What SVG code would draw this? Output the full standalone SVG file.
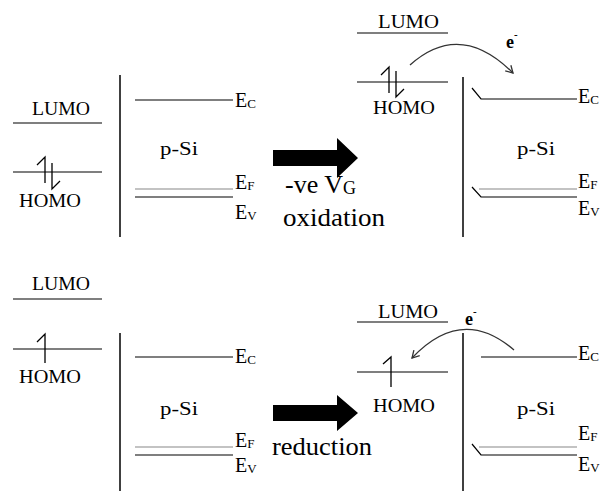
<svg xmlns="http://www.w3.org/2000/svg" width="602" height="491" viewBox="0 0 602 491">
<style>
.bg{fill:#fff}
.ln{stroke:#000;stroke-width:1.2;fill:none}
.vl{stroke:#000;stroke-width:1.5;fill:none}
.gl{stroke:#888;stroke-width:1.2;fill:none}
.el{stroke:#000;stroke-width:1.3;fill:none}
text{font-family:'Liberation Serif','DejaVu Serif',serif;fill:#000}
.mo{font-size:19px}
.e{font-size:20px}
.sub{font-size:13px}
.big{font-size:26px}
.eb{font-size:18px;font-weight:bold}
.cv{stroke:#333;stroke-width:1.3;fill:none;marker-end:url(#ah)}
</style>
<defs>
<marker id="ah" markerWidth="10" markerHeight="10" refX="8" refY="5" orient="auto" markerUnits="userSpaceOnUse">
<path d="M1,1 L8,5 L1,9" stroke="#333" stroke-width="1.3" fill="none"/>
</marker>
</defs>
<rect class="bg" x="0" y="0" width="602" height="491"/>

<g id="tl-molecule">
<text class="mo" x="32" y="115" textLength="58" lengthAdjust="spacingAndGlyphs">LUMO</text>
<line class="ln" x1="13" y1="123" x2="102" y2="123"/>
<line class="ln" x1="13" y1="172" x2="102" y2="172"/>
<path class="el" d="M37,165 L45,157 L45,183"/>
<path class="el" d="M52,163 L52,189 L60,181"/>
<text class="mo" x="19" y="207" textLength="62" lengthAdjust="spacingAndGlyphs">HOMO</text>
</g>

<g id="tl-silicon">
<line class="vl" x1="120" y1="75" x2="120" y2="237"/>
<line class="ln" x1="135" y1="100" x2="233" y2="100"/>
<line class="gl" x1="135" y1="189" x2="233" y2="189"/>
<line class="ln" x1="135" y1="197" x2="233" y2="197"/>
<text class="mo" x="160" y="155" textLength="38" lengthAdjust="spacingAndGlyphs">p-Si</text>
<text class="e" x="235" y="107">E<tspan class="sub" dy="1">C</tspan></text>
<text class="e" x="235" y="189">E<tspan class="sub" dy="1">F</tspan></text>
<text class="e" x="235" y="219">E<tspan class="sub" dy="1">V</tspan></text>
</g>

<g id="tr-molecule">
<text class="mo" x="378" y="28" textLength="61" lengthAdjust="spacingAndGlyphs">LUMO</text>
<line class="ln" x1="357" y1="33" x2="448" y2="33"/>
<line class="ln" x1="357" y1="82" x2="448" y2="82"/>
<path class="el" d="M381,75 L389,67 L389,93"/>
<path class="el" d="M396,71 L396,97 L404,89"/>
<text class="mo" x="373" y="114" textLength="62" lengthAdjust="spacingAndGlyphs">HOMO</text>
</g>

<g id="tr-silicon">
<line class="vl" x1="463" y1="77" x2="463" y2="237"/>
<path class="ln" d="M472,88 L481,99 L577,99"/>
<path class="gl" d="M479,189 L577,189"/>
<path class="ln" d="M472,187 L481,197 L577,197"/>
<text class="mo" x="517" y="155" textLength="38" lengthAdjust="spacingAndGlyphs">p-Si</text>
<text class="e" x="578" y="103">E<tspan class="sub" dy="1">C</tspan></text>
<text class="e" x="578" y="188">E<tspan class="sub" dy="1">F</tspan></text>
<text class="e" x="578" y="215">E<tspan class="sub" dy="1">V</tspan></text>
</g>

<g id="bl-molecule">
<text class="mo" x="32" y="290" textLength="58" lengthAdjust="spacingAndGlyphs">LUMO</text>
<line class="ln" x1="13" y1="299" x2="102" y2="299"/>
<line class="ln" x1="13" y1="349" x2="102" y2="349"/>
<path class="el" d="M37,342 L45,334 L45,363"/>
<text class="mo" x="19" y="383" textLength="62" lengthAdjust="spacingAndGlyphs">HOMO</text>
</g>

<g id="bl-silicon">
<line class="vl" x1="120" y1="333" x2="120" y2="491"/>
<line class="ln" x1="135" y1="357" x2="233" y2="357"/>
<line class="gl" x1="135" y1="447" x2="233" y2="447"/>
<line class="ln" x1="135" y1="455" x2="233" y2="455"/>
<text class="mo" x="160" y="415" textLength="38" lengthAdjust="spacingAndGlyphs">p-Si</text>
<text class="e" x="235" y="363">E<tspan class="sub" dy="1">C</tspan></text>
<text class="e" x="235" y="447">E<tspan class="sub" dy="1">F</tspan></text>
<text class="e" x="235" y="472">E<tspan class="sub" dy="1">V</tspan></text>
</g>

<g id="br-molecule">
<text class="mo" x="378" y="318" textLength="60" lengthAdjust="spacingAndGlyphs">LUMO</text>
<line class="ln" x1="357" y1="322" x2="448" y2="322"/>
<line class="ln" x1="357" y1="372" x2="448" y2="372"/>
<path class="el" d="M383,364 L391,357 L391,387"/>
<text class="mo" x="373" y="412" textLength="62" lengthAdjust="spacingAndGlyphs">HOMO</text>
</g>

<g id="br-silicon">
<line class="vl" x1="463" y1="333" x2="463" y2="491"/>
<line class="ln" x1="481" y1="357" x2="577" y2="357"/>
<path class="gl" d="M479,447 L577,447"/>
<path class="ln" d="M472,444 L481,455 L577,455"/>
<text class="mo" x="517" y="415" textLength="38" lengthAdjust="spacingAndGlyphs">p-Si</text>
<text class="e" x="578" y="360">E<tspan class="sub" dy="1">C</tspan></text>
<text class="e" x="578" y="440">E<tspan class="sub" dy="1">F</tspan></text>
<text class="e" x="578" y="471">E<tspan class="sub" dy="1">V</tspan></text>
</g>

<g id="connectors">
<polygon fill="#000" points="273,150 337,150 337,138 358,158 337,178 337,166 273,166"/>
<polygon fill="#000" points="273,405 337,405 337,395 358,413 337,431 337,421 273,421"/>
<path class="cv" d="M410,65 Q460,20 513,73"/>
<path class="cv" d="M514,350 Q462,305 412,358"/>
</g>

<g id="labels">
<text class="eb" x="506" y="48">e<tspan font-size="11" dy="-10">-</tspan></text>
<text class="eb" x="465" y="325">e<tspan font-size="11" dy="-10">-</tspan></text>
<text class="big" x="285" y="193">-ve V<tspan font-size="18" dy="1">G</tspan></text>
<text class="big" x="283" y="226" textLength="102" lengthAdjust="spacingAndGlyphs">oxidation</text>
<text class="big" x="272" y="455" textLength="100" lengthAdjust="spacingAndGlyphs">reduction</text>
</g>
</svg>
